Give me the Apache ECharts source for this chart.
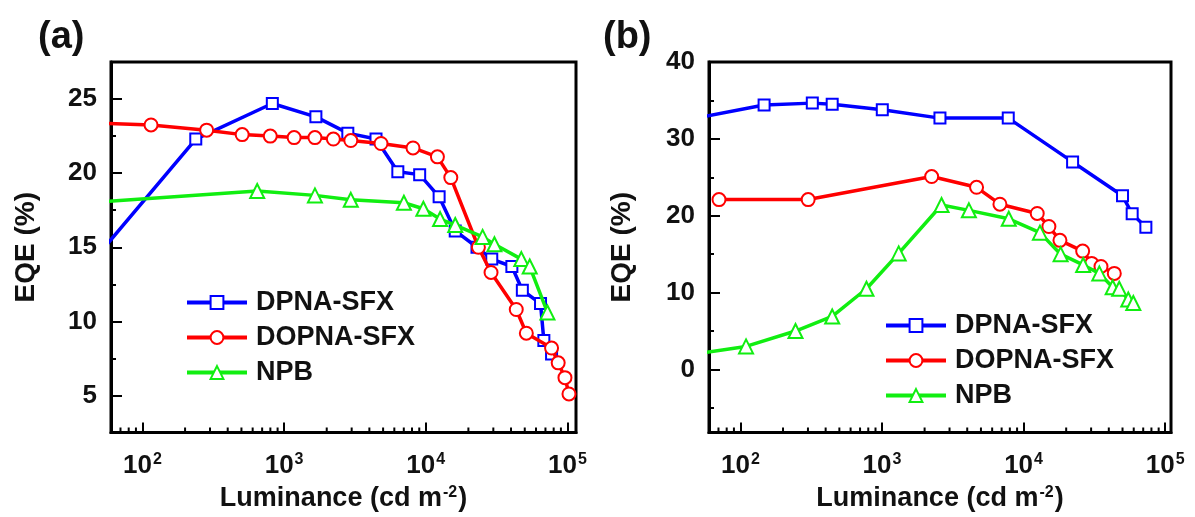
<!DOCTYPE html>
<html>
<head>
<meta charset="utf-8">
<script src="https://cdn.jsdelivr.net/npm/echarts@6/dist/echarts.min.js"></script>
<style>
  html, body { margin: 0; padding: 0; background: #fff; }
  #chart { width: 1195px; height: 517px; }
</style>
</head>
<body>
<div id="chart"></div>
<script>
// ---- Panel (a): EQE vs luminance ----
const lumA_dpna  = [45, 238, 826, 1677, 2818, 4456, 6353, 9060, 12430, 16150, 23000, 29240, 40550, 48080, 64600, 68200, 77300];
const eqeA_dpna  = [14.1, 22.3, 24.7, 23.8, 22.7, 22.3, 20.1, 19.9, 18.4, 16.1, 15.0, 14.2, 13.7, 12.1, 11.2, 8.7, 7.8];
const lumA_dopna = [40, 115, 284, 506, 799, 1177, 1651, 2228, 2958, 4833, 8130, 12090, 15030, 23540, 28900, 43550, 51300, 77300, 86100, 96100, 102600];
const eqeA_dopna = [23.4, 23.25, 22.9, 22.6, 22.5, 22.4, 22.4, 22.3, 22.2, 22.0, 21.7, 21.1, 19.7, 15.0, 13.3, 10.8, 9.2, 8.2, 7.2, 6.2, 5.1];
const lumA_npb   = [40, 646, 1651, 2958, 7010, 9620, 12630, 16150, 25200, 30540, 47300, 54200, 72300];
const eqeA_npb   = [18.0, 18.8, 18.5, 18.2, 18.0, 17.6, 16.9, 16.5, 15.7, 15.2, 14.2, 13.7, 10.6];

// ---- Panel (b): EQE vs luminance ----
const lumB_dpna  = [40, 147, 322, 445, 1005, 2567, 7795, 22200, 50000, 58500, 73100];
const eqeB_dpna  = [32.4, 34.4, 34.65, 34.5, 33.8, 32.7, 32.7, 27.0, 22.6, 20.25, 18.5];
const lumB_dopna = [70.6, 301, 2243, 4656, 6808, 12490, 15100, 18070, 26150, 30280, 35230, 43740];
const eqeB_dopna = [22.1, 22.1, 25.1, 23.7, 21.5, 20.3, 18.6, 16.8, 15.4, 13.8, 13.4, 12.5];
const lumB_npb   = [40, 109.6, 245, 445, 777, 1312, 2634, 4111, 7860, 13050, 18270, 26360, 34280, 42600, 47400, 54900, 59600];
const eqeB_npb   = [1.8, 3.0, 5.0, 6.9, 10.5, 15.1, 21.4, 20.7, 19.6, 17.8, 15.0, 13.6, 12.5, 10.7, 10.5, 9.1, 8.65];

// ---- Axis ranges and ticks ----
const xRange  = [60, 115000];
const xRangeB = [60, 110000];
const yRangeA = [2.5, 27.5];
const yRangeB = [-8.2, 40];
const xMinorTicks = [60, 70, 80, 90,
  200, 300, 400, 500, 600, 700, 800, 900,
  2000, 3000, 4000, 5000, 6000, 7000, 8000, 9000,
  20000, 30000, 40000, 50000, 60000, 70000, 80000, 90000];

const seriesNames = ['DPNA-SFX', 'DOPNA-SFX', 'NPB'];
const seriesColors = ['#0000ff', '#ff0000', '#11ee11'];
const seriesSymbols = ['emptyRect', 'emptyCircle', 'emptyTriangle'];
const symbolSizes = [11, 13, 14];

const FONT = '"Liberation Sans", Arial, sans-serif';

function pairs(xs, ys) { return xs.map((x, i) => [x, ys[i]]); }

function lineSeries(idx, k, xs, ys) {
  return {
    name: seriesNames[k], type: 'line',
    xAxisIndex: idx, yAxisIndex: idx,
    data: pairs(xs, ys),
    symbol: seriesSymbols[k], symbolSize: symbolSizes[k],
    showAllSymbol: true, clip: true,
    lineStyle: { color: seriesColors[k], width: 3.5 },
    itemStyle: { color: seriesColors[k], borderColor: seriesColors[k], borderWidth: 2.2 },
    emphasis: { disabled: true },
    z: 3 + k
  };
}

// short inward minor ticks on the log axis (2..9 x 10^n)
function minorTickSeries(idx, yMin, xr) {
  return {
    type: 'custom', xAxisIndex: idx, yAxisIndex: idx, silent: true, z: 10,
    data: xMinorTicks.filter(v => v > xr[0] && v < xr[1]).map(v => [v]),
    renderItem: function (params, api) {
      const p = api.coord([api.value(0), yMin]);
      return {
        type: 'line',
        shape: { x1: p[0], y1: p[1], x2: p[0], y2: p[1] - 5 },
        style: { stroke: '#000', lineWidth: 2 }
      };
    }
  };
}

function xAxisDef(idx, xr) {
  return {
    type: 'log', gridIndex: idx, min: xr[0], max: xr[1], logBase: 10,
    name: 'Luminance (cd m{sup|-2})', nameLocation: 'middle', nameGap: 52,
    nameTextStyle: {
      fontFamily: FONT, fontSize: 27, fontWeight: 'bold', color: '#111',
      rich: { sup: { fontFamily: FONT, fontSize: 16, fontWeight: 'bold', color: '#111', verticalAlign: 'top', padding: [0, 1, 12, 1] } }
    },
    axisLine: { show: true, onZero: false, lineStyle: { color: '#000', width: 3 } },
    axisTick: { show: true, inside: true, length: 10, lineStyle: { color: '#000', width: 2 } },
    minorTick: { show: false },
    splitLine: { show: false },
    axisLabel: {
      show: true, margin: 19, showMinLabel: false, showMaxLabel: false,
      formatter: function (v) {
        const e = Math.round(Math.log10(v));
        return '{b|10}{s|' + e + '}';
      },
      rich: {
        b: { fontFamily: FONT, fontSize: 26, fontWeight: 'bold', color: '#111' },
        s: { fontFamily: FONT, fontSize: 16, fontWeight: 'bold', color: '#111', verticalAlign: 'top', padding: [0, 0, 13, 1] }
      }
    }
  };
}

function yAxisDef(idx, yr, gap) {
  return {
    type: 'value', gridIndex: idx, min: yr[0], max: yr[1],
    name: 'EQE (%)', nameLocation: 'middle', nameGap: gap,
    nameTextStyle: { fontFamily: FONT, fontSize: 28, fontWeight: 'bold', color: '#111' },
    axisLine: { show: true, onZero: false, lineStyle: { color: '#000', width: 3 } },
    axisTick: { show: true, inside: true, length: 11, lineStyle: { color: '#000', width: 2 } },
    minorTick: { show: true, splitNumber: 2, length: 5, lineStyle: { color: '#000', width: 2 } },
    splitLine: { show: false },
    axisLabel: {
      margin: 14, showMinLabel: false, showMaxLabel: idx === 1,
      fontFamily: FONT, fontSize: 26, fontWeight: 'bold', color: '#111'
    }
  };
}

function legendDef(left, top) {
  return {
    data: seriesNames, orient: 'vertical', left: left, top: top,
    itemWidth: 60, itemHeight: 16, itemGap: 8,
    selectedMode: false,
    lineStyle: { width: 4 },
    textStyle: { fontFamily: FONT, fontSize: 27, fontWeight: 'bold', color: '#111', lineHeight: 27, padding: [0, 0, 0, 4] }
  };
}

const chart = echarts.init(document.getElementById('chart'), null, { renderer: 'canvas' });
chart.setOption({
  backgroundColor: '#fff',
  animation: false,
  title: [
    { text: '(a)', left: 33, top: 14, textStyle: { fontFamily: FONT, fontSize: 38, fontWeight: 'bold', color: '#111' } },
    { text: '(b)', left: 598, top: 14, textStyle: { fontFamily: FONT, fontSize: 38, fontWeight: 'bold', color: '#111' } }
  ],
  grid: [
    { left: 111, top: 62, width: 465, height: 375, show: true, borderColor: '#000', borderWidth: 3, backgroundColor: 'transparent' },
    { left: 709, top: 62, width: 462, height: 374, show: true, borderColor: '#000', borderWidth: 3, backgroundColor: 'transparent' }
  ],
  legend: [legendDef(180, 284), legendDef(879, 307)],
  xAxis: [xAxisDef(0, xRange), xAxisDef(1, xRangeB)],
  yAxis: [yAxisDef(0, yRangeA, 71), yAxisDef(1, yRangeB, 73)],
  series: [
    lineSeries(0, 0, lumA_dpna, eqeA_dpna),
    lineSeries(0, 1, lumA_dopna, eqeA_dopna),
    lineSeries(0, 2, lumA_npb, eqeA_npb),
    lineSeries(1, 0, lumB_dpna, eqeB_dpna),
    lineSeries(1, 1, lumB_dopna, eqeB_dopna),
    lineSeries(1, 2, lumB_npb, eqeB_npb),
    minorTickSeries(0, yRangeA[0], xRange),
    minorTickSeries(1, yRangeB[0], xRangeB)
  ]
});
</script>
</body>
</html>
